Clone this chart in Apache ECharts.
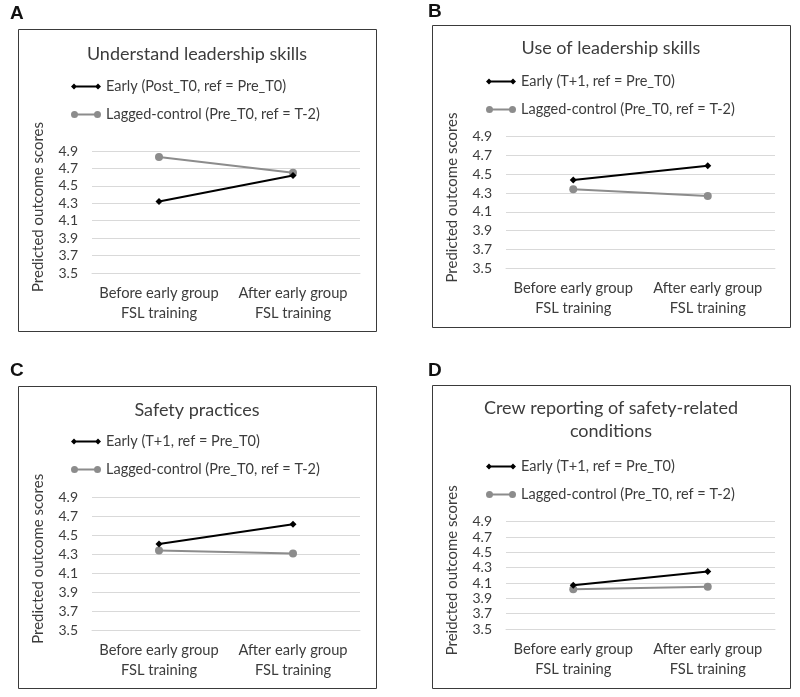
<!DOCTYPE html>
<html><head><meta charset="utf-8">
<script src="https://cdn.jsdelivr.net/npm/echarts@6/dist/echarts.min.js"></script>
<style>html,body{margin:0;padding:0;background:#fff}#c{width:800px;height:697px}</style>
</head><body><div id="c"></div>
<script>
const categories = ['Before early group\nFSL training', 'After early group\nFSL training'];
const yTickLabels = ['3.5','3.7','3.9','4.1','4.3','4.5','4.7','4.9'];
const Y_BASE = 3.5;
const panelLetters = ['A','B','C','D'];
const panelTitles = ['Understand leadership skills','Use of leadership skills','Safety practices','Crew reporting of safety-related\nconditions'];
const earlyNames = ['Early (Post_T0, ref = Pre_T0)','Early (T+1, ref = Pre_T0)','Early (T+1, ref = Pre_T0)','Early (T+1, ref = Pre_T0)'];
const laggedName = 'Lagged-control (Pre_T0, ref = T-2)';
const yAxisNames = ['Predicted outcome scores','Predicted outcome scores','Predicted outcome scores','Preidcted outcome scores'];
const earlyA = [4.32, 4.62];
const laggedA = [4.83, 4.65];
const earlyB = [4.44, 4.59];
const laggedB = [4.34, 4.27];
const earlyC = [4.41, 4.62];
const laggedC = [4.34, 4.31];
const earlyD = [4.07, 4.25];
const laggedD = [4.02, 4.05];
const earlyAll = [earlyA, earlyB, earlyC, earlyD];
const laggedAll = [laggedA, laggedB, laggedC, laggedD];

const FONT = 'Lato';
const TXT = '#3c3c3c';
const GRAY = '#8c8c8c';
// legend icons: line with markers at both ends (Excel style)
const ICON_EARLY = 'path://M0,4L3,1L6,4L3,7ZM3,3.1L27,3.1L27,4.9L3,4.9ZM24,4L27,1L30,4L27,7Z';
const ICON_LAGGED = 'path://M0,4A3.5,3.5 0 1,1 7,4A3.5,3.5 0 1,1 0,4ZM3.5,3.1L26.5,3.1L26.5,4.9L3.5,4.9ZM23,4A3.5,3.5 0 1,1 30,4A3.5,3.5 0 1,1 23,4Z';
// layout
const panels = [
  {box:[18,29,358,302], letter:[10,4], title:[197,43], legend:[71,79], grid:{left:92,top:151,width:268,height:122}},
  {box:[432,25,358,302], letter:[428,2], title:[611,37], legend:[486,74], grid:{left:506,top:136.7,width:269,height:131.6}},
  {box:[18,386,358,302], letter:[10,361], title:[197,399], legend:[71,434], grid:{left:92,top:497.7,width:268,height:132.3}},
  {box:[432,385,358,303], letter:[428,361], title:[611,397], legend:[486,459], grid:{left:506,top:521.7,width:269,height:107.3}}
];

const option = {
  animation:false,
  backgroundColor:'#fff',
  textStyle:{fontFamily:FONT,color:TXT},
  title: panels.map((p,i)=>({text:panelTitles[i],left:p.title[0],top:p.title[1],textAlign:'center',padding:0,
    textStyle:{fontFamily:FONT,fontSize:18,fontWeight:'normal',color:TXT,lineHeight:23}})),
  legend: panels.map((p,i)=>({orient:'vertical',left:p.legend[0],top:p.legend[1],padding:0,itemGap:13,itemWidth:30,itemHeight:8,
    data:[{name:earlyNames[i],icon:ICON_EARLY},{name:laggedName,icon:ICON_LAGGED}],
    textStyle:{fontFamily:FONT,fontSize:14.5,color:TXT},selectedMode:false})),
  grid: panels.map(p=>Object.assign({containLabel:false},p.grid)),
  xAxis: panels.map((p,i)=>({type:'category',gridIndex:i,data:categories,boundaryGap:true,
    axisLine:{show:true,lineStyle:{color:'#d9d9d9'}},axisTick:{show:false},
    axisLabel:{fontFamily:FONT,fontSize:14.7,color:TXT,lineHeight:20,margin:10,interval:0,hideOverlap:false}})),
  yAxis: panels.map((p,i)=>({type:'value',gridIndex:i,min:0,max:1.4,interval:0.2,
    name:yAxisNames[i],nameLocation:'middle',nameGap:46,nameRotate:90,
    nameTextStyle:{fontFamily:FONT,fontSize:15,color:TXT,padding:[0,0,0,10]},
    axisLine:{show:false},axisTick:{show:false},
    axisLabel:{fontFamily:FONT,fontSize:14,color:TXT,margin:14,formatter:(v,idx)=>yTickLabels[idx]},
    splitLine:{lineStyle:{color:'#d9d9d9',width:1}}})),
  series: [],
  graphic: []
};
panels.forEach((p,i)=>{
  option.series.push({name:earlyNames[i],type:'line',xAxisIndex:i,yAxisIndex:i,
    data:earlyAll[i].map(v=>+(v-Y_BASE).toFixed(4)),symbol:'diamond',symbolSize:7,
    lineStyle:{color:'#000',width:2},itemStyle:{color:'#000'},z:3});
  option.series.push({name:laggedName,type:'line',xAxisIndex:i,yAxisIndex:i,
    data:laggedAll[i].map(v=>+(v-Y_BASE).toFixed(4)),symbol:'circle',symbolSize:8,
    lineStyle:{color:GRAY,width:2},itemStyle:{color:GRAY},z:2});
  option.graphic.push({type:'rect',shape:{x:p.box[0]+0.5,y:p.box[1]+0.5,width:p.box[2],height:p.box[3]},
    style:{fill:'none',stroke:'#3a3a3a',lineWidth:1},silent:true});
  option.graphic.push({type:'text',left:p.letter[0],top:p.letter[1],
    style:{text:panelLetters[i],font:'bold 19px "Liberation Sans"',fill:'#111'}});
});
const chart = echarts.init(document.getElementById('c'),null,{renderer:'canvas'});
chart.setOption(option);
</script>
</body></html>
